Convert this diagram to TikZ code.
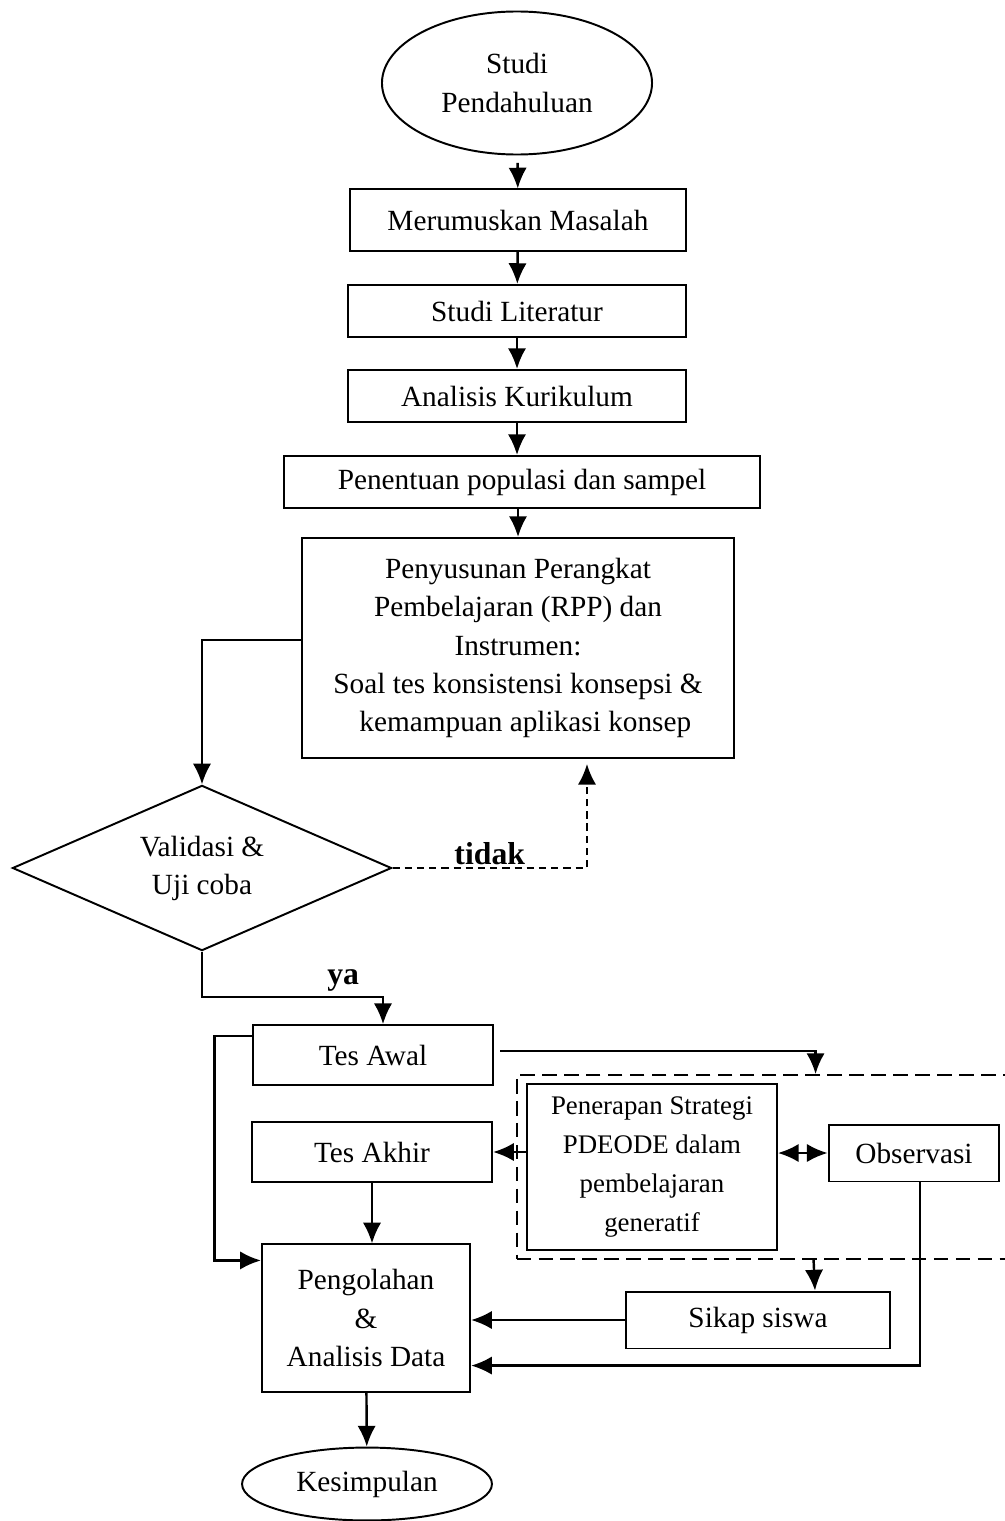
\documentclass[tikz,border=0pt]{standalone}
\usepackage{fontspec}
\setmainfont{Liberation Serif}
\usepackage{tikz}
\usetikzlibrary{shapes.geometric}
\usetikzlibrary{arrows.meta}
\usetikzlibrary{calc}
\tikzset{every picture/.style={line width=0.8pt,x=0.0144cm,y=-0.0144cm},
  box/.style={draw,rectangle,align=center,inner sep=2pt,font=\fontsize{12}{15.6}\selectfont},
  oval/.style={draw,ellipse,align=center,inner sep=0pt,font=\fontsize{12}{15.6}\selectfont},
  arr/.style={line width=1pt,-{Latex[length=8.5pt,width=7.5pt]}},
  lbl/.style={font=\bfseries\fontsize{13}{13}\selectfont}}

\begin{document}
\begin{tikzpicture}
\useasboundingbox (0,0) rectangle (1004,1521);
\node[oval,minimum width=3.89cm,minimum height=2.06cm] (studi) at (517,83) {Studi\\Pendahuluan};
\node[box,minimum width=4.84cm,minimum height=0.88cm] (rumus) at (518,220) {Merumuskan Masalah};
\node[box,minimum width=4.87cm,minimum height=0.75cm] (literatur) at (517,311) {Studi Literatur};
\node[box,minimum width=4.87cm,minimum height=0.75cm] (kurikulum) at (517,396) {Analisis Kurikulum};
\node[box,minimum width=6.85cm,minimum height=0.75cm] (populasi) at (522,482) {Penentuan populasi dan sampel};
\node[box,minimum width=6.21cm,minimum height=3.17cm] (susun) at (518,648) {Penyusunan Perangkat\\Pembelajaran (RPP) dan\\Instrumen:\\Soal tes konsistensi konsepsi \&\\\hspace*{0.5em}kemampuan aplikasi konsep};
\node[draw,diamond,aspect=2.3,inner sep=0pt,minimum width=5.46cm,minimum height=2.38cm,align=center,font=\fontsize{12}{15.6}\selectfont] (valid) at (202,868) {Validasi \&\\Uji coba};
\node[box,minimum width=3.47cm,minimum height=0.86cm] (awal) at (373,1055) {Tes Awal};
\node[box,minimum width=3.46cm,minimum height=0.86cm] (akhir) at (372,1152) {Tes Akhir};
\node[draw,dash pattern=on 6pt off 3pt,minimum width=7.82cm,minimum height=2.65cm] (grup) at (788,1167) {};
\node[box,minimum width=3.6cm,minimum height=2.38cm,font=\fontsize{11}{16}\selectfont] (terap) at (652,1167) {Penerapan Strategi\\PDEODE dalam\\pembelajaran\\generatif};
\node[box,minimum width=2.46cm,minimum height=0.82cm] (obs) at (914,1153) {Observasi};
\node[box,minimum width=3.0cm,minimum height=2.12cm] (olah) at (366,1318) {Pengolahan\\\&\\Analisis Data};
\node[box,minimum width=3.8cm,minimum height=0.82cm] (sikap) at (758,1320) {Sikap siswa};
\node[oval,minimum width=3.6cm,minimum height=1.05cm] (simpul) at (367,1484) {Kesimpulan};

\draw[arr,shorten <=3pt] (studi) -- (rumus);
\draw[arr] (rumus) -- (literatur);
\draw[arr] (literatur) -- (kurikulum);
\draw[arr] (kurikulum) -- (kurikulum |- populasi.north);
\draw[arr] (susun.north |- populasi.south) -- (susun.north);
\draw[arr] ($(susun.west)+(0,-8)$) -| (valid.north);
\draw[arr,dash pattern=on 3pt off 2pt,shorten >=2pt] (valid.east) -| ($(susun.south)+(69,0)$) node[lbl,pos=0.25,above,inner sep=1pt] {tidak};
\draw[arr] (valid.south) |- ($(awal.north)+(10,-27)$) node[lbl,pos=0.89,above,inner sep=2pt] {ya} -- ($(awal.north)+(10,0)$);
\draw[arr] ($(awal.north west)+(0,12)$) -- ++(-37,0) |- ($(olah.north west)+(0,17)$);
\draw[arr] ($(awal.east)+(6,-4)$) -| ($(grup.north west)+(300,0)$);
\draw[arr] (terap.west |- akhir.east) -- (akhir.east);
\draw[line width=1pt,{Latex[length=8.5pt,width=7.5pt]}-{Latex[length=8.5pt,width=7.5pt]}] (terap.east |- obs.west) -- (obs.west);
\draw[arr] (akhir.south) -- (akhir.south |- olah.north);
\draw[arr] ($(grup.south west)+(298,0)$) -- ($(sikap.north)+(57,0)$);
\draw[arr] (sikap.west) -- (olah.east |- sikap.west);
\draw[arr] ($(obs.south)+(6,0)$) |- ($(olah.south east)+(0,-27)$);
\draw[arr] (olah) -- (simpul);
\end{tikzpicture}
\end{document}
